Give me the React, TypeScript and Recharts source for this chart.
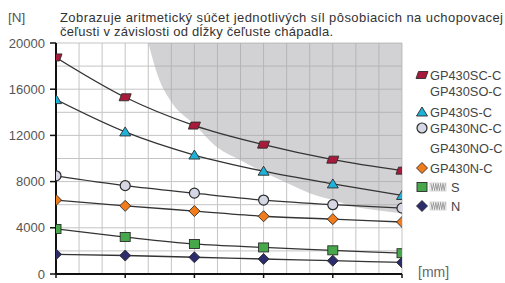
import React from 'react';
import {
  Area, CartesianGrid, ComposedChart, Line, XAxis, YAxis,
} from 'recharts';

// jaw length positions (the axis has no numeric labels, 3 grid cells per step)
const positions = [0, 3, 6, 9, 12, 15];
const gp430SC = [18750, 15300, 12850, 11200, 9900, 8950];
const gp430S = [15100, 12300, 10300, 8900, 7800, 6800];
const gp430NC = [8500, 7650, 7000, 6400, 6000, 5700];
const gp430N = [6400, 5900, 5450, 5000, 4750, 4500];
const springS = [3900, 3200, 2600, 2300, 2050, 1800];
const springN = [1700, 1600, 1450, 1300, 1150, 1000];

// lower edge of the shaded (not allowed) zone
const zoneX = [4, 4.5, 5, 6, 7, 8, 9, 10, 11, 12, 13, 14, 15];
const zoneLow = [20000, 16700, 14900, 12950, 10950, 9850, 8800, 7900, 7000, 6400, 5800, 5500, 5250];
const zoneTop = 20000;

const yTicks = [0, 4000, 8000, 12000, 16000, 20000];
const yGrid = [0, 2000, 4000, 6000, 8000, 10000, 12000, 14000, 16000, 18000, 20000];
const xGrid = [0, 1, 2, 3, 4, 5, 6, 7, 8, 9, 10, 11, 12, 13, 14, 15];

const titleLines = [
  'Zobrazuje aritmetický súčet jednotlivých síl pôsobiacich na uchopovacej',
  'čeľusti v závislosti od dĺžky čeľuste chápadla.',
];
const legendNames = ['GP430SC-C', 'GP430SO-C', 'GP430S-C', 'GP430NC-C', 'GP430NO-C', 'GP430N-C', 'S', 'N'];
const legendKinds = ['para', '', 'tri', 'circle', '', 'diamondO', 'square', 'diamondN'];

const data = positions.map((x, i) => ({
  x,
  sc: gp430SC[i],
  s: gp430S[i],
  nc: gp430NC[i],
  n: gp430N[i],
  ss: springS[i],
  sn: springN[i],
}));
const zoneData = zoneX.map((x, i) => ({ x, zone: [zoneLow[i], zoneTop] }));

const OUTLINE = '#2b2b2b';
const colors: Record<string, string> = {
  para: '#a81a3c',
  tri: '#1fb2d8',
  circle: '#d5d8e4',
  diamondO: '#f07c1c',
  square: '#46a84a',
  diamondN: '#2c2c6c',
};

function Marker({ kind, cx, cy }: { kind: string; cx: number; cy: number }) {
  const fill = colors[kind];
  const common = { fill, stroke: OUTLINE, strokeWidth: 0.9 };
  if (kind === 'para') {
    return <path d={`M${cx - 3.5},${cy - 3.5}L${cx + 6},${cy - 3.5}L${cx + 3.5},${cy + 3.5}L${cx - 6},${cy + 3.5}Z`} {...common} />;
  }
  if (kind === 'tri') {
    return <path d={`M${cx},${cy - 5}L${cx + 5.5},${cy + 4}L${cx - 5.5},${cy + 4}Z`} {...common} />;
  }
  if (kind === 'circle') {
    return <circle cx={cx} cy={cy} r={5} {...common} strokeWidth={1.2} />;
  }
  if (kind === 'square') {
    return <rect x={cx - 5} y={cy - 4.5} width={10} height={9} {...common} />;
  }
  if (kind === 'diamondO' || kind === 'diamondN') {
    return <path d={`M${cx},${cy - 5.5}L${cx + 5.5},${cy}L${cx},${cy + 5.5}L${cx - 5.5},${cy}Z`} {...common} />;
  }
  return null;
}

const dotOf = (kind: string) => (p: any) => (
  <Marker key={`${kind}-${p.index}`} kind={kind} cx={p.cx} cy={p.cy} />
);

function Spring({ x, y }: { x: number; y: number }) {
  const pts: string[] = [];
  for (let i = 0; i <= 12; i++) {
    pts.push(`${x + i * 1.2},${y + (i % 2 === 0 ? -3.5 : 3.5)}`);
  }
  return (
    <g>
      <rect x={x - 1} y={y - 4} width={16} height={8} fill="#fff" stroke="#bbb" strokeWidth={0.6} />
      <polyline points={pts.join(' ')} fill="none" stroke="#888" strokeWidth={0.8} />
    </g>
  );
}

const legendRows = [75, 91, 112, 128, 148, 168, 187, 206];
const titleWidths = [443, 273];

export default function App() {
  const font = '"Liberation Sans", Arial, sans-serif';
  return (
    <div style={{ position: 'absolute', left: 0, top: 0, width: 505, height: 283, background: '#fff', fontFamily: font, overflow: 'hidden' }}>
      <ComposedChart
        width={505}
        height={283}
        data={data}
        margin={{ top: 43, right: 103, bottom: 0, left: 0 }}
      >
        <CartesianGrid
          stroke="#c4c4c4"
          strokeWidth={1}
          horizontalValues={yGrid}
          verticalValues={xGrid}
        />
        <XAxis
          type="number"
          dataKey="x"
          domain={[0, 15]}
          ticks={positions}
          height={9}
          tickSize={4}
          tickFormatter={() => ''}
          axisLine={{ stroke: '#111', strokeWidth: 2 }}
          tickLine={{ stroke: '#111', strokeWidth: 1.5 }}
          allowDataOverflow
        />
        <YAxis
          type="number"
          domain={[0, 20000]}
          ticks={yTicks}
          width={56}
          tickSize={6}
          tickMargin={5}
          axisLine={{ stroke: '#111', strokeWidth: 2 }}
          tickLine={{ stroke: '#111', strokeWidth: 1.5 }}
          tick={{ fill: '#555', fontSize: 13, fontFamily: font }}
          allowDataOverflow
        />
        <Area
          data={zoneData}
          dataKey="zone"
          type="monotone"
          fill="#a6a6aa"
          fillOpacity={0.5}
          stroke="none"
          isAnimationActive={false}
          dot={false}
          activeDot={false}
        />
        <Line dataKey="sc" type="monotone" stroke="#333" strokeWidth={1.3} dot={dotOf('para')} isAnimationActive={false} />
        <Line dataKey="s" type="monotone" stroke="#333" strokeWidth={1.3} dot={dotOf('tri')} isAnimationActive={false} />
        <Line dataKey="nc" type="monotone" stroke="#333" strokeWidth={1.3} dot={dotOf('circle')} isAnimationActive={false} />
        <Line dataKey="n" type="monotone" stroke="#333" strokeWidth={1.3} dot={dotOf('diamondO')} isAnimationActive={false} />
        <Line dataKey="ss" type="monotone" stroke="#333" strokeWidth={1.3} dot={dotOf('square')} isAnimationActive={false} />
        <Line dataKey="sn" type="monotone" stroke="#333" strokeWidth={1.3} dot={dotOf('diamondN')} isAnimationActive={false} />
      </ComposedChart>
      <svg width={505} height={283} style={{ position: 'absolute', left: 0, top: 0, pointerEvents: 'none' }}>
        <text x={8} y={22} fontSize={13.5} fill="#555" fontFamily={font}>[N]</text>
        {titleLines.map((t, i) => (
          <text
            key={i}
            x={60}
            y={22 + i * 14}
            fontSize={13}
            fill="#333"
            fontFamily={font}
            textLength={titleWidths[i]}
            lengthAdjust="spacing"
          >
            {t}
          </text>
        ))}
        <text x={418} y={277} fontSize={14} fill="#666" fontFamily={font}>[mm]</text>
        {legendNames.map((name, i) => {
          const y = legendRows[i];
          const kind = legendKinds[i];
          const spring = kind === 'square' || kind === 'diamondN';
          return (
            <g key={name}>
              {kind && <Marker kind={kind} cx={422} cy={y} />}
              {spring && <Spring x={431} y={y} />}
              <text x={spring ? 451 : 430} y={y + 5} fontSize={12.8} fill="#444" fontFamily={font}>{name}</text>
            </g>
          );
        })}
      </svg>
    </div>
  );
}
